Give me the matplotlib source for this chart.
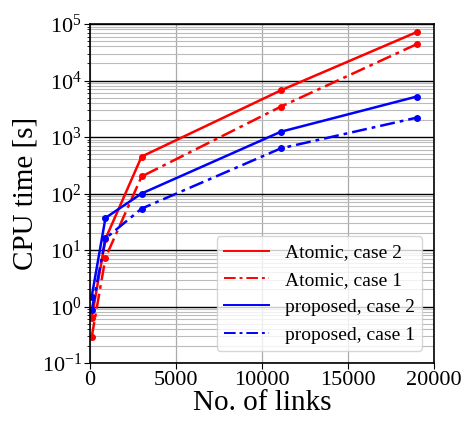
import matplotlib
matplotlib.use("Agg")
import matplotlib.pyplot as plt
from matplotlib.lines import Line2D
from matplotlib.ticker import LogLocator, NullFormatter

plt.rcParams['font.family'] = ['Liberation Serif', 'DejaVu Serif']
plt.rcParams['mathtext.fontset'] = 'stix'

links = [100, 900, 3000, 11100, 19000]
atomic_case2 = [0.63, 15.7, 450, 6700, 72000]
atomic_case1 = [0.29, 7.3, 200, 3450, 44000]
proposed_case2 = [1.5, 37, 100, 1240, 5200]
proposed_case1 = [0.85, 16, 54, 630, 2200]

labels = ["Atomic, case 2", "Atomic, case 1", "proposed, case 2", "proposed, case 1"]

fig = plt.figure(figsize=(4.62, 4.21), dpi=100)
ax = fig.add_axes([90/462, 1 - 363/421, (434-90)/462, (363-24)/421])

series = [(atomic_case2, 'red', '-'), (atomic_case1, 'red', (0, (6, 2, 1.5, 2))),
          (proposed_case2, 'blue', '-'), (proposed_case1, 'blue', (0, (6, 2, 1.5, 2)))]
for ys, c, ls in series:
    ax.plot(links, ys, color=c, linestyle=ls, lw=1.8, marker='o', markersize=4)

ax.set_yscale('log')
ax.set_ylim(0.1, 1e5)
ax.set_xlim(0, 20000)
ax.set_xticks([0, 5000, 10000, 15000, 20000])
ax.yaxis.set_major_locator(LogLocator(base=10, numticks=10))
ax.yaxis.set_minor_locator(LogLocator(base=10, subs=range(2, 10), numticks=20))
ax.yaxis.set_minor_formatter(NullFormatter())
ax.grid(True, which='major', axis='y', color='black', lw=1.0)
ax.grid(True, which='minor', axis='y', color='#bbbbbb', lw=0.8)
ax.grid(True, which='major', axis='x', color='#aaaaaa', lw=0.9)
ax.set_axisbelow(True)
ax.tick_params(axis='both', which='major', labelsize=16, direction='out', length=4, pad=2)
ax.tick_params(axis='y', which='minor', length=2)
for s in ax.spines.values():
    s.set_linewidth(1.2)

ax.set_xlabel("No. of links", fontsize=21, labelpad=0)
ax.set_ylabel("CPU time [s]", fontsize=21, labelpad=2)

handles = [Line2D([], [], color=c, linestyle=ls, lw=1.4) for _, c, ls in series]
ax.legend(handles, labels, loc='lower right', fontsize=14, framealpha=0.8,
          handlelength=2.3, borderaxespad=0.6)

fig.savefig("out.png", dpi=100)
